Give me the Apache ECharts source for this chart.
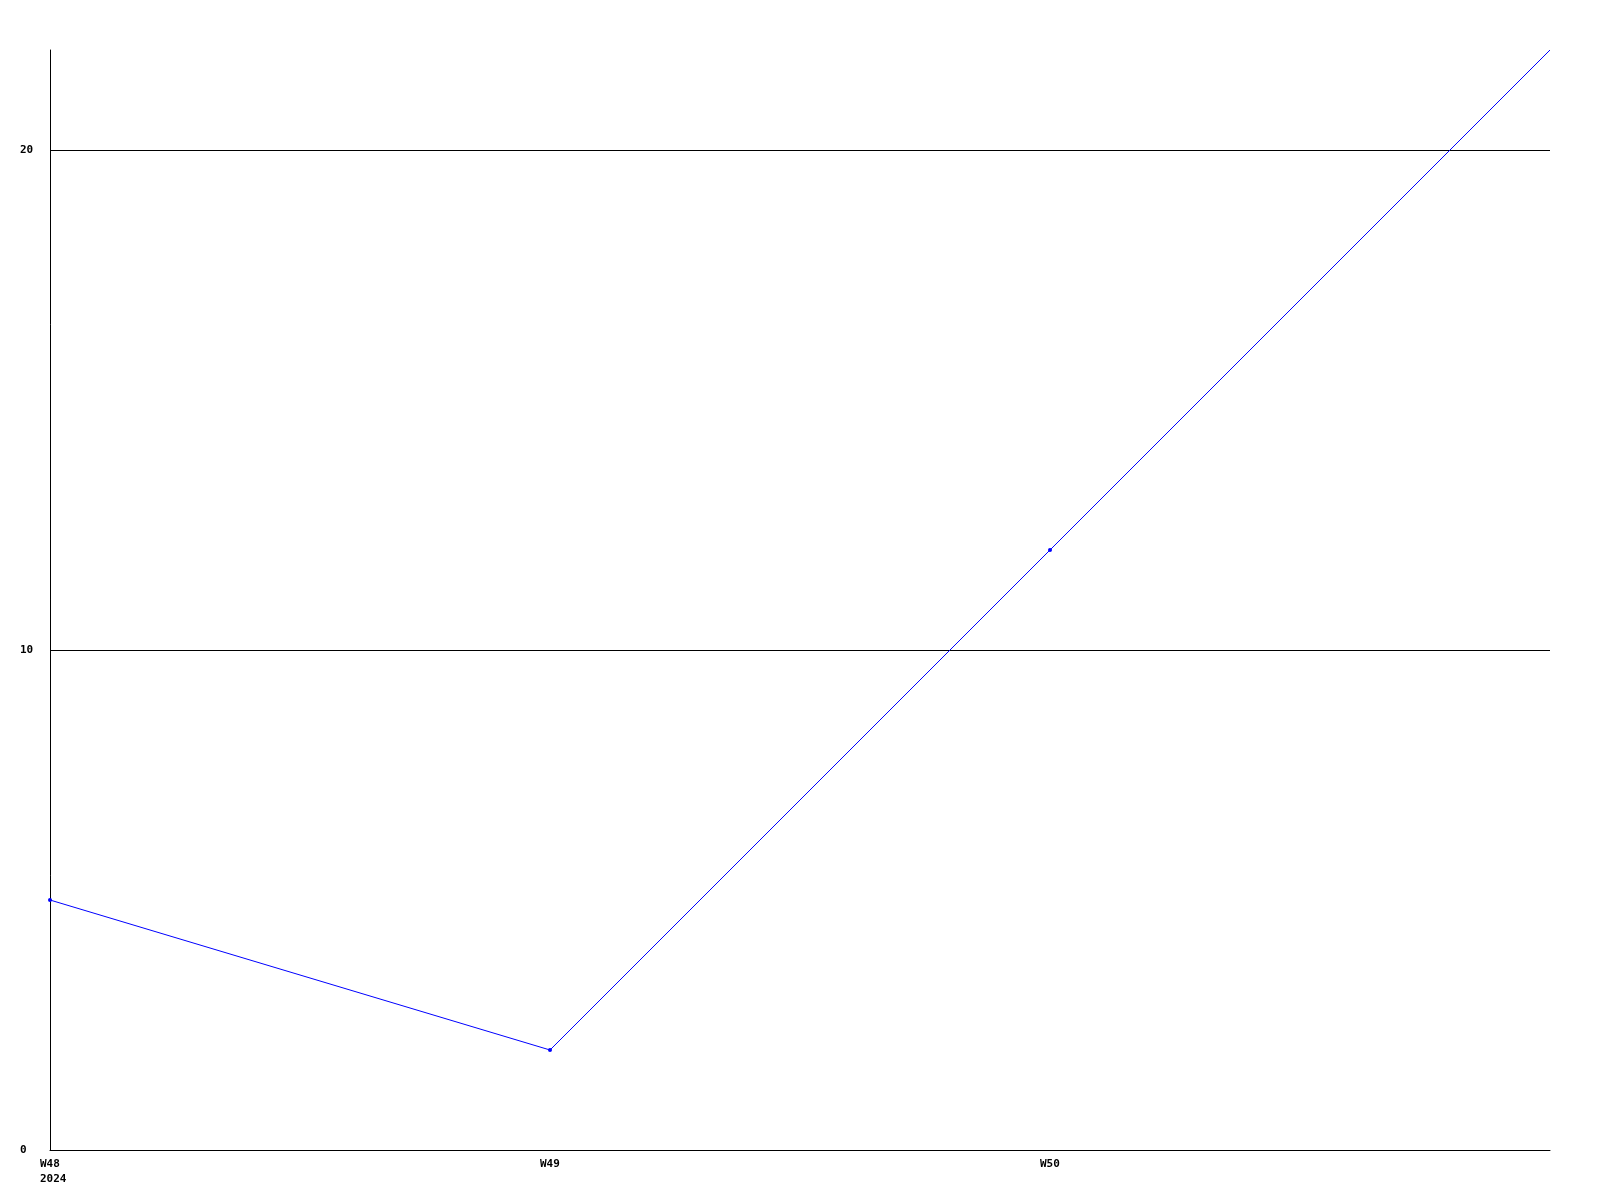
<!DOCTYPE html>
<html>
<head>
<meta charset="utf-8">
<script src="https://cdn.jsdelivr.net/npm/echarts@6/dist/echarts.min.js"></script>
<style>html,body{margin:0;padding:0;background:#fff}#c{width:1600px;height:1200px}</style>
</head>
<body>
<div id="c"></div>
<script>
const weeks = ['W48', 'W49', 'W50', 'W51'];
const weekLabels = [['W48', '2024'], ['W49'], ['W50'], []];
const values = [5, 2, 12, 22];
const yTicks = [0, 10, 20];

const chart = echarts.init(document.getElementById('c'), null, {renderer: 'canvas'});
const font = {fontFamily: 'DejaVu Sans Mono', fontWeight: 'bold', fontSize: 11, color: '#000'};
chart.setOption({
  animation: false,
  backgroundColor: '#fff',
  grid: {left: 50, right: 50, top: 50, bottom: 50},
  xAxis: {
    type: 'category',
    data: weeks,
    boundaryGap: false,
    axisLine: {lineStyle: {color: '#000', width: 1}},
    axisTick: {show: false},
    splitLine: {show: false},
    axisLabel: Object.assign({}, font, {
      margin: 7, lineHeight: 15, verticalAlign: 'top', align: 'center',
      formatter: (v, i) => weekLabels[i].map(s => '{a|' + s + '}').join('\n'),
      rich: {a: Object.assign({}, font, {width: 20, align: 'left', lineHeight: 15})}
    })
  },
  yAxis: {
    type: 'value',
    min: 0, max: 22, interval: 10,
    axisLine: {show: true, lineStyle: {color: '#000', width: 1}},
    axisTick: {show: false},
    splitLine: {show: true, showMaxLine: false, lineStyle: {color: '#000', width: 1}},
    axisLabel: Object.assign({}, font, {
      margin: 30, align: 'left',
      formatter: v => yTicks.includes(v) ? String(v) : ''
    })
  },
  series: [{
    type: 'line',
    data: values.map((v, i) => i === values.length - 1 ? {value: v, symbolSize: 0} : v),
    symbol: 'circle',
    symbolSize: 4,
    showSymbol: true,
    itemStyle: {color: '#0000ff'},
    lineStyle: {color: '#0000ff', width: 1}
  }]
});
</script>
</body>
</html>
